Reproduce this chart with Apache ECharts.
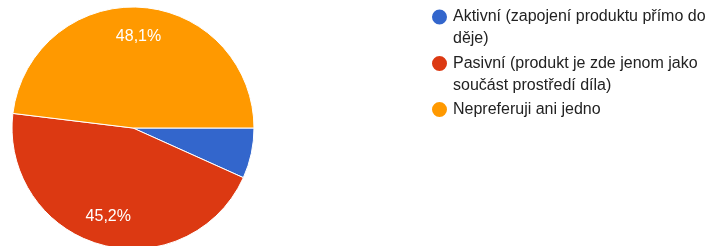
<!DOCTYPE html>
<html>
<head>
<meta charset="utf-8">
<script src="https://cdn.jsdelivr.net/npm/echarts@6/dist/echarts.min.js"></script>
<style>
html,body{margin:0;padding:0;background:#fff;}
#c{width:712px;height:246px;}
</style>
</head>
<body>
<div id="c"></div>
<script>
var categories = [
  'Aktivní (zapojení produktu přímo do děje)',
  'Pasivní (produkt je zde jenom jako součást prostředí díla)',
  'Nepreferuji ani jedno'
];
var values = [7, 47, 50];
var colors = ['#3366CC', '#DC3912', '#FF9900'];

var total = values.reduce(function (a, b) { return a + b; }, 0);
function pct(v) { return (v / total * 100).toFixed(1).replace('.', ',') + '%'; }

var FONT = 'Liberation Sans, Arial, sans-serif';
var LEGEND_FONT_SIZE = 16;
var WRAP_WIDTH = 262;

var measureCtx = document.createElement('canvas').getContext('2d');
measureCtx.font = LEGEND_FONT_SIZE + 'px ' + FONT;
function wrapLines(text, maxW) {
  var words = text.split(' ');
  var lines = [];
  var cur = '';
  words.forEach(function (w) {
    var cand = cur ? cur + ' ' + w : w;
    if (cur && measureCtx.measureText(cand).width > maxW) {
      lines.push(cur);
      cur = w;
    } else {
      cur = cand;
    }
  });
  if (cur) lines.push(cur);
  return lines;
}

var pieData = categories.map(function (name, i) {
  return { name: name, value: values[i], itemStyle: { color: colors[i] } };
});
var labelData = categories.map(function (name, i) {
  return { name: name, value: values[i], label: { show: values[i] / total >= 0.1 } };
});

var iconTops = [8.5, 55, 101];
var legends = categories.map(function (name, i) {
  var lines = wrapLines(name, WRAP_WIDTH);
  var n = lines.length;
  // pad with empty lines above so the first line sits level with the icon
  var padded = [];
  for (var k = 0; k < n - 1; k++) padded.push('');
  var txt = padded.concat(lines).join('\n');
  var half = (2 * n - 1) * 22 / 2;
  return {
    left: 430,
    top: iconTops[i] - (half - 8.5),
    orient: 'vertical',
    padding: 0,
    icon: 'circle',
    itemWidth: 17,
    itemHeight: 17,
    selectedMode: false,
    data: [name],
    formatter: function () { return txt; },
    textStyle: {
      fontFamily: FONT,
      fontSize: LEGEND_FONT_SIZE,
      color: '#222222',
      lineHeight: 22
    }
  };
});

var chart = echarts.init(document.getElementById('c'), null, { renderer: 'canvas' });
chart.setOption({
  animation: false,
  legend: legends,
  series: [
    {
      type: 'pie',
      center: [133, 128],
      radius: [0, 121],
      startAngle: 0,
      clockwise: true,
      silent: true,
      label: { show: false },
      labelLine: { show: false },
      itemStyle: { borderColor: '#ffffff', borderWidth: 1 },
      data: pieData
    },
    {
      type: 'pie',
      center: [133, 128],
      radius: [57, 121],
      startAngle: 0,
      clockwise: true,
      silent: true,
      itemStyle: { color: 'rgba(0,0,0,0)' },
      label: {
        show: true,
        position: 'inside',
        fontFamily: FONT,
        fontSize: 16,
        color: '#ffffff',
        formatter: function (p) { return pct(p.value); }
      },
      labelLine: { show: false },
      data: labelData
    }
  ]
});
</script>
</body>
</html>
